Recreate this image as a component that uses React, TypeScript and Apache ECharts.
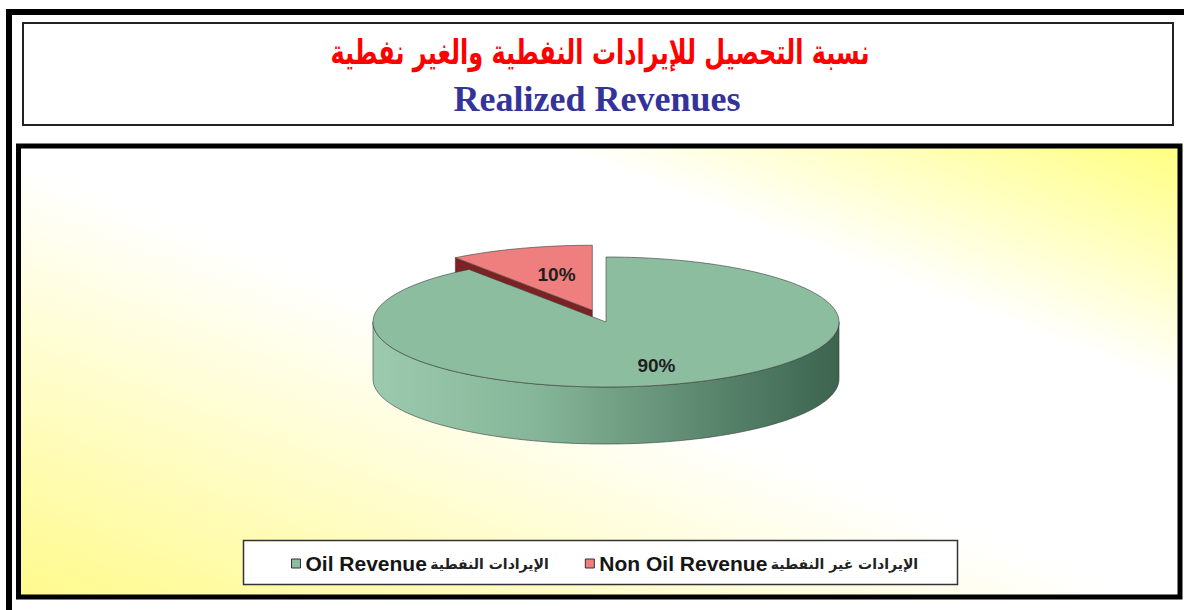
import React, { useEffect, useRef } from "react";
import * as echarts from "echarts";

// ---- data ----
const categories = ["Oil Revenue", "Non Oil Revenue"];
const arabicLabels = ["الإيرادات النفطية", "الإيرادات غير النفطية"];
const values = [90, 10];
const titleAr = "نسبة التحصيل للإيرادات النفطية والغير نفطية";
const titleEn = "Realized Revenues";

// ---- style ----
const TOP_COLORS = ["#8dbd9f", "#ef7f7f"];
const WALL_COLORS = ["#4f7d64", "#7d2222"];
const SIDE_STOPS = [
  ["#9ccaae", "#86b699", "#5d8970", "#3c644f"],
  ["#c04a4a", "#a03535", "#802525", "#601818"],
];
const EXPLODE = [0, 0.19];
const LABEL_R = [0.7, 0.58];
const CX = 606, CY = 322, RX = 233, RY = 65, DEPTH = 57;

function pt(cx: number, cy: number, a: number, dy = 0): number[] {
  return [cx + RX * Math.sin(a), cy - RY * Math.cos(a) + dy];
}
function arc(cx: number, cy: number, a0: number, a1: number, dy = 0): number[][] {
  const n = Math.max(2, Math.ceil(Math.abs(a1 - a0) / (Math.PI / 120)));
  const out: number[][] = [];
  for (let k = 0; k <= n; k++) out.push(pt(cx, cy, a0 + ((a1 - a0) * k) / n, dy));
  return out;
}

function renderSlice(i: number, api: any) {
  const total = values.reduce((s, v) => s + v, 0);
  let acc = 0;
  for (let j = 0; j < i; j++) acc += values[j];
  const v = api.value(0);
  const a0 = (acc / total) * Math.PI * 2;
  const a1 = ((acc + v) / total) * Math.PI * 2;
  const mid = (a0 + a1) / 2;
  const e = EXPLODE[i];
  const cx = CX + e * RX * Math.sin(mid);
  const cy = CY - e * RY * Math.cos(mid);
  const stroke = "#3a3a3a";
  const children: any[] = [];
  const c = [cx, cy];
  const cb = [cx, cy + DEPTH];
  if (Math.sin(a0) < -1e-6) {
    children.push({
      type: "polygon",
      shape: { points: [c, pt(cx, cy, a0), pt(cx, cy, a0, DEPTH), cb] },
      style: { fill: WALL_COLORS[i], stroke, lineWidth: 0.6 },
    });
  }
  if (Math.sin(a1) > 1e-6) {
    children.push({
      type: "polygon",
      shape: { points: [c, pt(cx, cy, a1), pt(cx, cy, a1, DEPTH), cb] },
      style: { fill: WALL_COLORS[i], stroke, lineWidth: 0.6 },
    });
  }
  const s0 = Math.max(a0, Math.PI / 2);
  const s1 = Math.min(a1, (Math.PI * 3) / 2);
  if (s1 > s0) {
    const pts = arc(cx, cy, s0, s1).concat(arc(cx, cy, s1, s0, DEPTH));
    const st = SIDE_STOPS[i];
    children.push({
      type: "polygon",
      shape: { points: pts },
      style: {
        fill: new echarts.graphic.LinearGradient(0, 0, 1, 0, [
          { offset: 0, color: st[0] },
          { offset: 0.35, color: st[1] },
          { offset: 0.7, color: st[2] },
          { offset: 1, color: st[3] },
        ]),
        stroke,
        lineWidth: 0.6,
      },
    });
  }
  children.push({
    type: "polygon",
    shape: { points: [c].concat(arc(cx, cy, a0, a1)) },
    style: { fill: TOP_COLORS[i], stroke, lineWidth: 0.6 },
  });
  const lr = LABEL_R[i];
  children.push({
    type: "text",
    x: cx + lr * RX * Math.sin(mid) + (i === 1 ? 6 : 0),
    y: cy - lr * RY * Math.cos(mid),
    style: {
      text: Math.round((v / total) * 100) + "%",
      fill: "#1e1e1e",
      fontSize: 19,
      fontWeight: "bold",
      fontFamily: "Liberation Sans, Arial, sans-serif",
      align: "center",
      verticalAlign: "middle",
      textAlign: "center",
      textVerticalAlign: "middle",
    },
  });
  return { type: "group", children };
}

const option: any = {
  animation: false,
  backgroundColor: "#ffffff",
  graphic: {
    elements: [
      { type: "rect", z: 0, shape: { x: 6, y: 9, width: 1178, height: 6 }, style: { fill: "#000" } },
      { type: "rect", z: 0, shape: { x: 6, y: 9, width: 6, height: 601 }, style: { fill: "#000" } },
      {
        type: "rect",
        z: 0,
        shape: { x: 23, y: 23, width: 1150, height: 102 },
        style: { fill: "#ffffff", stroke: "#222", lineWidth: 2 },
      },
      {
        type: "rect",
        z: 0,
        shape: { x: 18.5, y: 146, width: 1161.5, height: 451 },
        style: {
          fill: new echarts.graphic.LinearGradient(1, 0, 0, 1, [
            { offset: 0, color: "#ffff80" },
            { offset: 0.27, color: "#ffffff" },
            { offset: 0.52, color: "#ffffff" },
            { offset: 1, color: "#fffa8c" },
          ]),
          stroke: "#000",
          lineWidth: 5,
        },
      },
      {
        type: "rect",
        z: 0,
        shape: { x: 243.5, y: 540.5, width: 714, height: 44 },
        style: { fill: "#ffffff", stroke: "#333", lineWidth: 1.5 },
      },
      {
        type: "text",
        z: 1,
        x: 600,
        y: 52,
        scaleX: 0.8,
        scaleY: 1.15,
        style: {
          text: titleAr,
          fill: "#ff0000",
          font: "bold 30px 'DejaVu Sans', sans-serif",
          align: "center",
          verticalAlign: "middle",
          textAlign: "center",
          textVerticalAlign: "middle",
        },
      },
      {
        type: "text",
        z: 1,
        x: 597,
        y: 99,
        style: {
          text: titleEn,
          fill: "#333399",
          font: "bold 36px 'Liberation Serif', 'Times New Roman', serif",
          align: "center",
          verticalAlign: "middle",
          textAlign: "center",
          textVerticalAlign: "middle",
        },
      },
    ],
  },
  legend: {
    z: 5,
    left: 286,
    top: 548,
    data: categories,
    icon: "rect",
    itemWidth: 9,
    itemHeight: 9,
    itemGap: 36,
    selectedMode: false,
    itemStyle: { borderColor: "#333", borderWidth: 1 },
    formatter: (name: string) => {
      const idx = categories.indexOf(name);
      return "{en|" + name + "} {ar|" + arabicLabels[idx] + "}";
    },
    textStyle: {
      rich: {
        en: {
          fontFamily: "Liberation Sans, Arial, sans-serif",
          fontWeight: "bold",
          fontSize: 21,
          color: "#151515",
        },
        ar: {
          fontFamily: "DejaVu Sans, sans-serif",
          fontWeight: "bold",
          fontSize: 14,
          color: "#222",
        },
      },
    },
  },
  series: categories.map((name, i) => ({
    type: "custom",
    name,
    coordinateSystem: "none",
    z: i === 0 ? 3 : 2,
    silent: true,
    itemStyle: { color: TOP_COLORS[i] },
    data: [values[i]],
    renderItem: (_params: any, api: any) => renderSlice(i, api),
  })),
};

export default function App() {
  const ref = useRef<HTMLDivElement>(null);
  useEffect(() => {
    if (!ref.current) return;
    const chart = echarts.init(ref.current, null, { renderer: "svg" });
    chart.setOption(option);
    return () => chart.dispose();
  }, []);
  return (
    <div
      ref={ref}
      style={{ position: "absolute", left: 0, top: 0, width: 1184, height: 610 }}
    />
  );
}
